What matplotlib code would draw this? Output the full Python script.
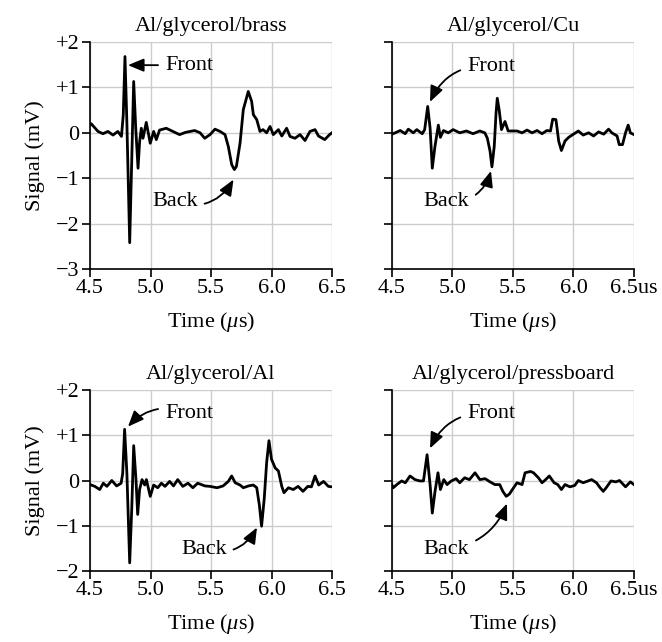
import matplotlib
matplotlib.use("Agg")
import matplotlib.pyplot as plt
import numpy as np

plt.rcParams['font.family'] = ['Liberation Serif', 'DejaVu Serif']
plt.rcParams['mathtext.fontset'] = 'custom'
plt.rcParams['mathtext.rm'] = 'Liberation Serif'
plt.rcParams['mathtext.it'] = 'Liberation Serif:italic'

# ---------------- data ----------------
titles = ["Al/glycerol/brass", "Al/glycerol/Cu", "Al/glycerol/Al", "Al/glycerol/pressboard"]

t_brass = [4.50, 4.51, 4.566, 4.607, 4.648, 4.69, 4.73, 4.76, 4.775, 4.789, 4.805, 4.828, 4.845, 4.861,
           4.878, 4.897, 4.91, 4.924, 4.938, 4.965, 4.998, 5.026, 5.048, 5.075, 5.13, 5.185, 5.24, 5.29,
           5.365, 5.41, 5.448, 5.492, 5.533, 5.575, 5.616, 5.643, 5.671, 5.693, 5.71, 5.74, 5.767, 5.808,
           5.836, 5.85, 5.878, 5.905, 5.93, 5.96, 5.988, 6.015, 6.057, 6.085, 6.125, 6.153, 6.194, 6.236,
           6.277, 6.318, 6.36, 6.388, 6.44, 6.48, 6.50]
v_brass = [0.18, 0.20, 0.03, -0.02, 0.03, -0.05, 0.03, -0.08, 0.4, 1.68, 0.2, -2.42, -0.6, 1.13,
           0.1, -0.78, -0.2, 0.10, -0.12, 0.23, -0.23, 0.03, -0.15, 0.06, 0.10, 0.03, -0.04, 0.01,
           0.05, 0.0, -0.12, -0.04, 0.08, 0.03, -0.04, -0.30, -0.70, -0.81, -0.74, -0.23, 0.51, 0.91,
           0.69, 0.40, 0.29, 0.03, 0.07, 0.0, 0.14, -0.04, 0.07, -0.07, 0.10, -0.08, -0.12, -0.04,
           -0.17, 0.03, 0.07, -0.07, -0.15, -0.04, 0.0]

t_cu = [4.50, 4.527, 4.568, 4.609, 4.635, 4.676, 4.705, 4.75, 4.77, 4.795, 4.815, 4.833, 4.855, 4.883,
        4.90, 4.925, 4.965, 5.005, 5.06, 5.115, 5.17, 5.225, 5.267, 5.288, 5.31, 5.326, 5.345, 5.36,
        5.37, 5.386, 5.405, 5.434, 5.46, 5.49, 5.533, 5.575, 5.616, 5.657, 5.699, 5.74, 5.78, 5.81,
        5.828, 5.855, 5.878, 5.90, 5.93, 5.96, 6.00, 6.04, 6.08, 6.125, 6.166, 6.207, 6.25, 6.29,
        6.317, 6.36, 6.378, 6.405, 6.43, 6.452, 6.47, 6.50]
v_cu = [-0.03, 0.0, 0.05, -0.02, 0.08, 0.0, 0.07, -0.02, 0.07, 0.58, 0.1, -0.78, -0.3, 0.17,
        -0.1, 0.05, 0.0, 0.07, 0.0, 0.04, -0.02, 0.04, 0.0, -0.12, -0.4, -0.75, -0.3, 0.44,
        0.76, 0.5, 0.07, 0.25, 0.04, 0.04, 0.04, 0.0, 0.06, 0.0, 0.05, -0.02, 0.05, 0.04,
        0.3, 0.29, -0.19, -0.39, -0.18, -0.1, -0.03, 0.04, -0.05, 0.0, -0.07, 0.02, -0.03, 0.08,
        0.0, -0.07, -0.26, -0.26, 0.0, 0.17, 0.0, -0.04]

t_al = [4.50, 4.54, 4.58, 4.61, 4.64, 4.68, 4.72, 4.757, 4.77, 4.786, 4.805, 4.828, 4.846, 4.861,
        4.88, 4.894, 4.91, 4.93, 4.952, 4.966, 4.998, 5.026, 5.06, 5.09, 5.12, 5.158, 5.19, 5.225,
        5.267, 5.31, 5.35, 5.39, 5.45, 5.492, 5.55, 5.60, 5.643, 5.671, 5.70, 5.74, 5.767, 5.81,
        5.85, 5.878, 5.90, 5.918, 5.94, 5.96, 5.979, 6.00, 6.03, 6.057, 6.085, 6.103, 6.14, 6.18,
        6.22, 6.26, 6.30, 6.33, 6.36, 6.39, 6.43, 6.47, 6.50]
v_al = [-0.09, -0.13, -0.2, -0.06, -0.13, 0.0, -0.12, -0.06, 0.15, 1.13, 0.15, -1.82, -0.55, 0.77,
        0.02, -0.75, -0.2, 0.02, -0.1, 0.02, -0.35, -0.1, -0.16, -0.06, -0.13, -0.02, -0.12, 0.02,
        -0.13, -0.06, -0.16, -0.06, -0.12, -0.13, -0.16, -0.12, -0.02, 0.1, -0.05, -0.1, -0.16, -0.12,
        -0.1, -0.16, -0.55, -1.01, -0.4, 0.4, 0.88, 0.47, 0.28, 0.21, -0.13, -0.27, -0.16, -0.2,
        -0.13, -0.24, -0.13, -0.14, 0.1, -0.1, -0.02, -0.13, -0.14]

t_pb = [4.50, 4.51, 4.54, 4.58, 4.61, 4.649, 4.69, 4.73, 4.76, 4.79, 4.815, 4.833, 4.855, 4.88,
        4.90, 4.928, 4.955, 4.99, 5.03, 5.06, 5.10, 5.14, 5.186, 5.226, 5.27, 5.31, 5.35, 5.39,
        5.416, 5.444, 5.47, 5.50, 5.533, 5.575, 5.60, 5.645, 5.67, 5.71, 5.74, 5.77, 5.80, 5.84,
        5.87, 5.90, 5.93, 5.97, 6.01, 6.04, 6.08, 6.12, 6.15, 6.19, 6.22, 6.246, 6.27, 6.31,
        6.35, 6.38, 6.43, 6.47, 6.50]
v_pb = [-0.1, -0.16, -0.09, -0.01, -0.05, 0.1, 0.02, -0.01, -0.01, 0.57, -0.1, -0.72, -0.25, 0.17,
        -0.2, 0.02, -0.09, -0.01, 0.04, -0.05, 0.06, 0.02, 0.17, 0.02, 0.04, -0.03, -0.09, -0.09,
        -0.24, -0.35, -0.3, -0.18, -0.05, -0.09, 0.17, 0.2, 0.17, 0.06, -0.05, 0.02, 0.1, -0.05,
        -0.09, -0.2, -0.09, -0.14, -0.11, 0.0, -0.05, -0.01, 0.02, -0.05, -0.16, -0.24, -0.16, -0.01,
        -0.03, 0.0, -0.14, -0.03, -0.09]

times = [t_brass, t_cu, t_al, t_pb]
signals = [v_brass, v_cu, v_al, v_pb]

xticks = [4.5, 5.0, 5.5, 6.0, 6.5]
xlabels_left = ["4.5", "5.0", "5.5", "6.0", "6.5"]
xlabels_right = ["4.5", "5.0", "5.5", "6.0", "6.5us"]
yticks_top = [2, 1, 0, -1, -2, -3]
ylabels_top = ["+2", "+1", "0", "\u22121", "\u22122", "\u22123"]
yticks_bot = [2, 1, 0, -1, -2]
ylabels_bot = ["+2", "+1", "0", "\u22121", "\u22122"]

# annotations: (tip_t, tip_v, text_t, text_v, ha, rad)
front_ann = [(4.814, 1.49, 5.12, 1.49, 'left', 0.0),
             (4.814, 0.68, 5.12, 1.47, 'left', 0.35),
             (4.814, 1.19, 5.12, 1.48, 'left', 0.35),
             (4.814, 0.71, 5.12, 1.48, 'left', 0.35)]
back_ann = [(5.686, -1.03, 5.39, -1.52, 'right', 0.4),
            (5.318, -0.84, 5.14, -1.52, 'right', 0.4),
            (5.88, -1.04, 5.63, -1.52, 'right', 0.4),
            (5.45, -0.51, 5.14, -1.52, 'right', 0.3)]

# ---------------- figure ----------------
fig = plt.figure(figsize=(6.62, 6.42), dpi=100)
W, H = 662, 642
boxes = [(90, 42, 242, 227), (392, 42, 242, 227), (90, 390, 242, 181), (392, 390, 242, 181)]
FS = 16

for i in range(4):
    x0, y0, w, h = boxes[i]
    ax = fig.add_axes([x0 / W, 1 - (y0 + h) / H, w / W, h / H])
    top = i < 2
    left = i % 2 == 0
    ax.plot(times[i], signals[i], color='black', lw=2.0, solid_joinstyle='round', zorder=3)
    ax.set_xlim(4.5, 6.5)
    if top:
        ax.set_ylim(-3, 2)
        ax.set_yticks(yticks_top)
        ax.set_yticklabels(ylabels_top if left else [])
    else:
        ax.set_ylim(-2, 2)
        ax.set_yticks(yticks_bot)
        ax.set_yticklabels(ylabels_bot if left else [])
    ax.set_xticks(xticks)
    ax.set_xticklabels(xlabels_left if left else xlabels_right)
    ax.grid(True, color='#cccccc', lw=1.0, zorder=0)
    ax.set_axisbelow(True)
    for s in ['top', 'right']:
        ax.spines[s].set_visible(False)
    for s in ['left', 'bottom']:
        ax.spines[s].set_linewidth(1.2)
        ax.spines[s].set_zorder(4)
    ax.tick_params(direction='out', length=5.5, width=1.2, labelsize=FS, pad=2)
    ax.set_title(titles[i], fontsize=FS, pad=8)
    ax.set_xlabel("Time ($\\mu$s)", fontsize=FS, labelpad=8)
    if left:
        ax.set_ylabel("Signal (mV)", fontsize=FS, labelpad=8)

    tt, tv, xt, xv, ha, rad = front_ann[i]
    ax.annotate("Front", xy=(tt, tv), xytext=(xt, xv), ha=ha, va='center', fontsize=FS,
                arrowprops=dict(arrowstyle='-|>,head_length=0.6,head_width=0.25', color='black',
                                lw=1.3, shrinkA=3, shrinkB=0,
                                connectionstyle=f"arc3,rad={rad}"))
    tt, tv, xt, xv, ha, rad = back_ann[i]
    ax.annotate("Back", xy=(tt, tv), xytext=(xt, xv), ha=ha, va='center', fontsize=FS,
                arrowprops=dict(arrowstyle='-|>,head_length=0.6,head_width=0.25', color='black',
                                lw=1.3, shrinkA=3, shrinkB=0,
                                connectionstyle=f"arc3,rad={rad}"))

fig.savefig("out.png", dpi=100)
